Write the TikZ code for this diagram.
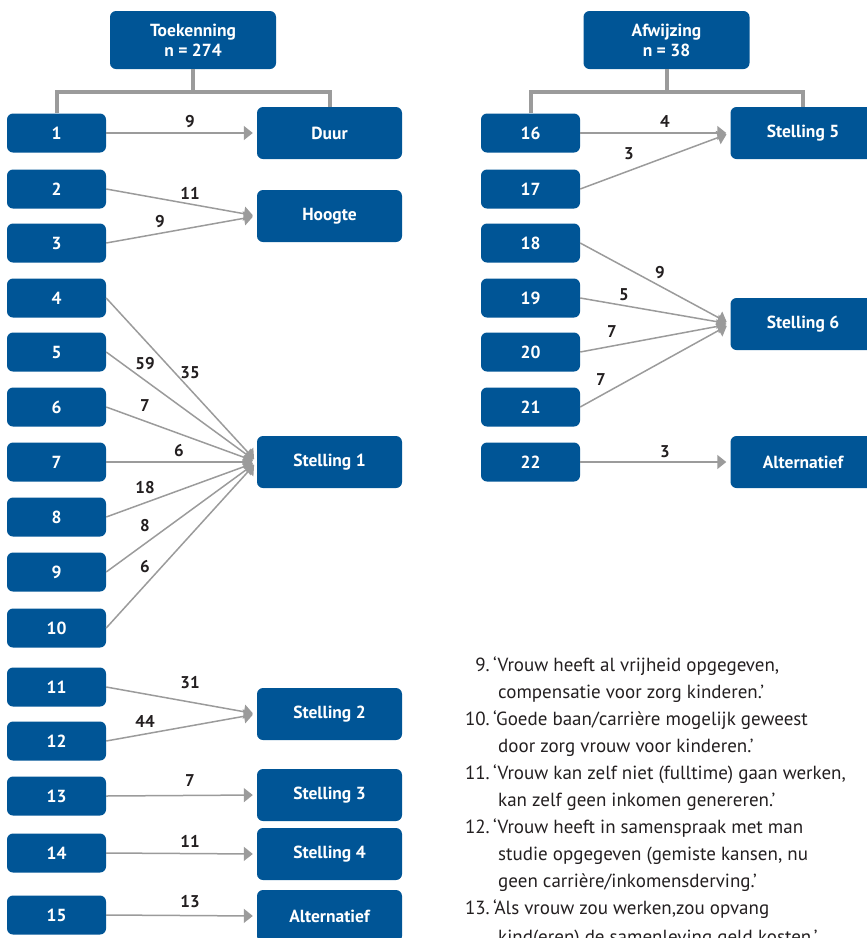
\documentclass[tikz,border=0pt]{standalone}
\usepackage{fontspec}
\setmainfont{PT Sans}
\usetikzlibrary{arrows.meta}
\definecolor{boxblue}{RGB}{0,85,150}
\definecolor{linegray}{RGB}{155,155,155}
\definecolor{txt}{RGB}{35,31,32}
\begin{document}
\begin{tikzpicture}[x=1pt,y=-1pt,
  src/.style={rectangle, rounded corners=6pt, fill=boxblue, text=white,
    font=\bfseries\fontsize{17.5}{20}\selectfont, minimum width=99pt,
    minimum height=39pt, inner sep=0pt},
  tgt/.style={src, minimum width=145pt, minimum height=52pt},
  head/.style={src, minimum width=166pt, minimum height=58pt, align=center,
    font=\bfseries\fontsize{17.5}{20}\selectfont},
  arr/.style={draw=linegray, line width=1.5pt,
    -{Triangle[length=9pt,width=14pt]}, shorten >=4pt},
  tree/.style={draw=linegray, line width=4pt},
  lab/.style={text=txt, font=\bfseries\fontsize{17}{20}\selectfont, inner sep=0pt},
  num/.style={text=txt, font=\fontsize{19}{22}\selectfont, inner sep=0pt, anchor=base east},
  itm/.style={text=txt, font=\fontsize{19}{22}\selectfont, inner sep=0pt, anchor=base west}]
\clip (0,0) rectangle (867,938);

% ---------- left group ----------
\node[head] (tk) at (193,40) {Toekenning\\n = 274};
\node[src] (b1) at (56.5,133) {1};
\node[src] (b2) at (56.5,189) {2};
\node[src] (b3) at (56.5,243) {3};
\node[src] (b4) at (56.5,298) {4};
\node[src] (b5) at (56.5,352) {5};
\node[src] (b6) at (56.5,407) {6};
\node[src] (b7) at (56.5,462) {7};
\node[src] (b8) at (56.5,517) {8};
\node[src] (b9) at (56.5,572) {9};
\node[src] (b10) at (56.5,628) {10};
\node[src] (b11) at (56.5,687) {11};
\node[src] (b12) at (56.5,741) {12};
\node[src] (b13) at (56.5,796) {13};
\node[src] (b14) at (56.5,853) {14};
\node[src] (b15) at (56.5,915) {15};

\node[tgt] (duur) at (329.5,133) {Duur};
\node[tgt] (hoog) at (329.5,216) {Hoogte};
\node[tgt] (st1) at (329.5,462) {Stelling 1};
\node[tgt] (st2) at (329.5,714) {Stelling 2};
\node[tgt] (st3) at (329.5,795) {Stelling 3};
\node[tgt] (st4) at (329.5,854) {Stelling 4};
\node[tgt] (altl) at (329.5,916) {Alternatief};

\coordinate (tkj) at ([yshift=-23pt]tk.south);
\draw[tree] (tk.south) -- (tkj);
\draw[tree] (b1.north) |- (tkj) -| (duur.north);

\draw[arr] (b1.east) -- (duur.west);
\draw[arr] (b2.east) -- (hoog.west);
\draw[arr] (b3.east) -- (hoog.west);
\foreach \i in {4,...,10} {\draw[arr] (b\i.east) -- (st1.west);}
\draw[arr] (b11.east) -- (st2.west);
\draw[arr] (b12.east) -- (st2.west);
\draw[arr] (b13.east) -- (st3.west);
\draw[arr] (b14.east) -- (st4.west);
\draw[arr] (b15.east) -- (altl.west);

\node[lab] (n1) at (190,122) {9};
\node[lab] (n2) at (190,193) {11};
\node[lab] (n3) at (160,222) {9};
\node[lab] (n4) at (190,373) {35};
\node[lab] (n5) at (145,364) {59};
\node[lab] (n6) at (145,406) {7};
\node[lab] (n7) at (179,451) {6};
\node[lab] (n8) at (145,488) {18};
\node[lab] (n9) at (145,526) {8};
\node[lab] (n10) at (145,567) {6};
\node[lab] (n11) at (190,683) {31};
\node[lab] (n12) at (145,721) {44};
\node[lab] (n13) at (190,781) {7};
\node[lab] (n14) at (190,841) {11};
\node[lab] (n15) at (190,902) {13};

% ---------- right group ----------
\node[head] (af) at (666.5,40) {Afwijzing\\n = 38};
\node[src] (b16) at (530.5,133) {16};
\node[src] (b17) at (530.5,189) {17};
\node[src] (b18) at (530.5,243) {18};
\node[src] (b19) at (530.5,298) {19};
\node[src] (b20) at (530.5,352) {20};
\node[src] (b21) at (530.5,407) {21};
\node[src] (b22) at (530.5,462) {22};

\node[tgt] (st5) at (803,133) {Stelling 5};
\node[tgt] (st6) at (803,324) {Stelling 6};
\node[tgt] (altr) at (803,462) {Alternatief};

\coordinate (afj) at ([yshift=-23pt]af.south);
\draw[tree] (af.south) -- (afj);
\draw[tree] (b16.north) |- (afj) -| (st5.north);

\draw[arr] (b16.east) -- (st5.west);
\draw[arr] (b17.east) -- (st5.west);
\foreach \i in {18,...,21} {\draw[arr] (b\i.east) -- (st6.west);}
\draw[arr] (b22.east) -- (altr.west);

\node[lab] (n16) at (665,122) {4};
\node[lab] (n17) at (629,154) {3};
\node[lab] (n18) at (660,273) {9};
\node[lab] (n19) at (624,295) {5};
\node[lab] (n20) at (612,332) {7};
\node[lab] (n21) at (601,380) {7};
\node[lab] (n22) at (665,452) {3};

% ---------- legend text ----------
\node[num] (i9) at (490,671) {9.};
\node[itm] (t9a) at (493,671) {‘Vrouw heeft al vrijheid opgegeven,};
\node[itm] (t9b) at (498,698) {compensatie voor zorg kinderen.’};
\node[num] (i10) at (490,725) {10.};
\node[itm] (t10a) at (493,725) {‘Goede baan/carrière mogelijk geweest};
\node[itm] (t10b) at (498,752) {door zorg vrouw voor kinderen.’};
\node[num] (i11) at (490,779) {11.};
\node[itm] (t11a) at (493,779) {‘Vrouw kan zelf niet (fulltime) gaan werken,};
\node[itm] (t11b) at (498,806) {kan zelf geen inkomen genereren.’};
\node[num] (i12) at (490,833) {12.};
\node[itm] (t12a) at (493,833) {‘Vrouw heeft in samenspraak met man};
\node[itm] (t12b) at (498,860) {studie opgegeven (gemiste kansen, nu};
\node[itm] (t12c) at (498,887) {geen carrière/inkomensderving.’};
\node[num] (i13) at (490,914) {13.};
\node[itm] (t13a) at (493,914) {‘Als vrouw zou werken,zou opvang};
\node[itm] (t13b) at (498,943) {kind(eren) de samenleving geld kosten.’};
\end{tikzpicture}
\end{document}
